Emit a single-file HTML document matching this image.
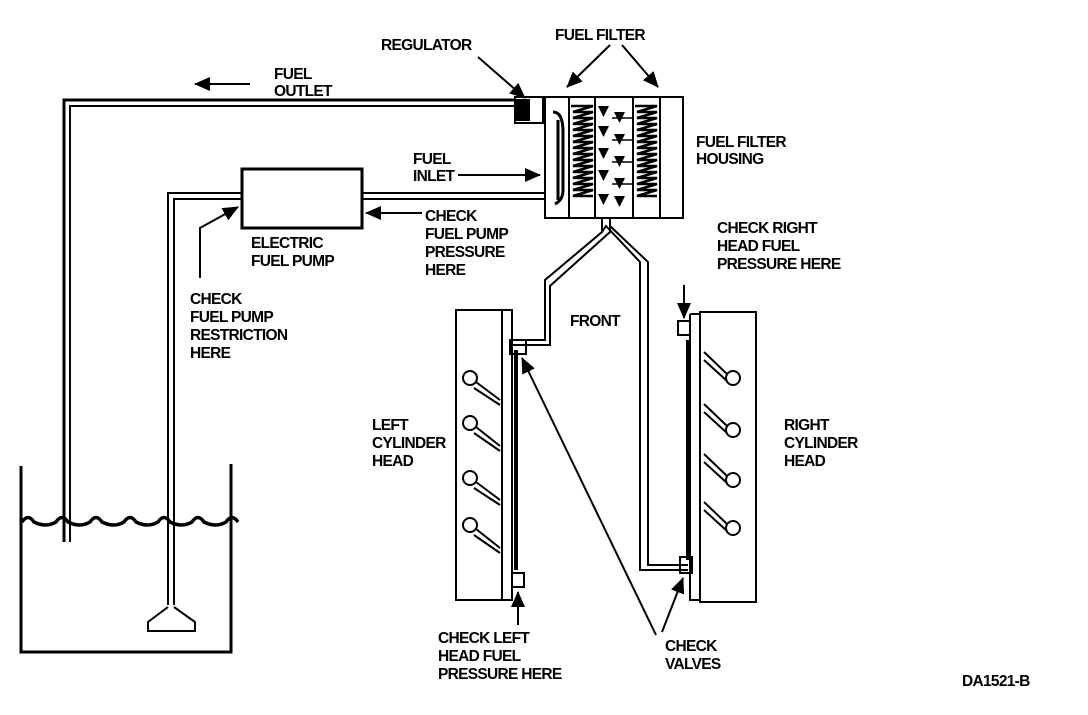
<!DOCTYPE html>
<html><head><style>
html,body{margin:0;padding:0;background:#fff;}
svg text{font-family:"Liberation Sans",sans-serif;font-weight:bold;font-size:15.5px;fill:#000;letter-spacing:-0.7px;}
</style></head><body>
<svg width="1088" height="710" viewBox="0 0 1088 710" xmlns="http://www.w3.org/2000/svg">
<defs>
<marker id="ahb" markerWidth="16" markerHeight="14" refX="15" refY="7" orient="auto" markerUnits="userSpaceOnUse"><path d="M0,0 L16,7 L0,14 Z" fill="#000"/></marker>
</defs>
<g stroke="#000" fill="none" stroke-width="2">
<path d="M21,466 V652 H231 V464" stroke-width="3"/>
<path d="M22,522 q6,-9 12,0 q12,6 22,0 q6,-9 12,0 q12,6 22,0 q6,-9 12,0 q12,6 22,0 q6,-9 12,0 q12,6 22,0 q6,-9 12,0 q12,6 22,0 q6,-9 12,0 q12,6 22,0 q6,-9 12,0" stroke-width="3.5"/>
<path d="M64,542 V100 H515" stroke-width="3"/>
<path d="M70,542 V106 H515" stroke-width="2"/>
<path d="M168,605 V193 H242" stroke-width="2"/>
<path d="M174,605 V199 H242" stroke-width="2"/>
<path d="M168,607 L148,622 V631 H195 V622 L174,607" stroke-width="2"/>
<rect x="242" y="169" width="120" height="59" stroke-width="3"/>
<path d="M362,193 H545 M362,199 H545"/>
<rect x="515" y="97" width="28" height="26" stroke-width="2"/>
<rect x="517" y="100" width="12" height="20" fill="#000"/>
<rect x="545" y="97" width="138" height="121" stroke-width="2"/>
<path d="M569,97 V218 M595,97 V218 M633,97 V218 M660,97 V218"/>
<path d="M553,112 q10,0 10,20 V190 q0,10 -8,14 M558,120 V200" stroke-width="3"/>
<path d="M571,106 h22 l-20,6 h20 l-20,6 h20 l-20,6 h20 l-20,6 h20 l-20,6 h20 l-20,6 h20 l-20,6 h20 l-20,6 h20 l-20,6 h20 l-20,6 h20 l-20,6 h20 l-20,6 h20 l-20,6 h20 l-20,6 h20 l-20,6 h20" stroke-width="2.5"/>
<path d="M635,106 h22 l-20,6 h20 l-20,6 h20 l-20,6 h20 l-20,6 h20 l-20,6 h20 l-20,6 h20 l-20,6 h20 l-20,6 h20 l-20,6 h20 l-20,6 h20 l-20,6 h20 l-20,6 h20 l-20,6 h20 l-20,6 h20 l-20,6 h20" stroke-width="2.5"/>
<path d="M612,118 H632 M612,140 H632 M612,162 H632 M612,184 H632" stroke-width="1.5"/>
</g>
<g fill="#000">
<path d="M598,106 l11,0 l-5.5,11z M614,112 l11,0 l-5.5,11z M598,126 l11,0 l-5.5,11z M614,134 l11,0 l-5.5,11z M598,148 l11,0 l-5.5,11z M614,156 l11,0 l-5.5,11z M598,170 l11,0 l-5.5,11z M614,178 l11,0 l-5.5,11z M598,194 l11,0 l-5.5,11z M614,196 l11,0 l-5.5,11z"/>
</g>
<g stroke="#000" fill="none" stroke-width="2">
<path d="M602,218 V232 L545,280 V340 H512"/>
<path d="M610,218 V232 L550,286 V345 H512"/>
<path d="M602,232 L606,226 L640,262 V570 H688"/>
<path d="M610,226 L648,262 V565 H688"/>
<rect x="456" y="310" width="56" height="290"/>
<path d="M502,310 V600 M512,340 V600 H505"/>
<path d="M516,350 V570" stroke-width="4"/>
<rect x="510" y="340" width="16" height="14"/>
<rect x="512" y="573" width="12" height="14"/>
<rect x="700" y="312" width="56" height="290"/>
<path d="M690,314 V600 H700 M700,314 H690"/>
<path d="M688,340 V560" stroke-width="4"/>
<rect x="678" y="321" width="12" height="14"/>
<rect x="680" y="557" width="12" height="16"/>
<circle cx="470" cy="378" r="7"/><path d="M476,382 L500,400 M474,388 L500,405"/>
<circle cx="470" cy="423" r="7"/><path d="M476,427 L500,446 M474,433 L500,451"/>
<circle cx="470" cy="478" r="7"/><path d="M476,482 L500,500 M474,488 L500,505"/>
<circle cx="470" cy="525" r="7"/><path d="M476,529 L500,548 M474,535 L500,553"/>
<circle cx="733" cy="378" r="7"/><path d="M727,374 L704,352 M727,381 L704,360"/>
<circle cx="733" cy="430" r="7"/><path d="M727,426 L704,404 M727,433 L704,412"/>
<circle cx="733" cy="480" r="7"/><path d="M727,476 L704,454 M727,483 L704,462"/>
<circle cx="733" cy="528" r="7"/><path d="M727,524 L704,502 M727,531 L704,510"/>
<path d="M250,84 H195" marker-end="url(#ahb)"/>
<path d="M478,57 L525,98" marker-end="url(#ahb)"/>
<path d="M610,45 L567,87" marker-end="url(#ahb)"/>
<path d="M622,45 L658,87" marker-end="url(#ahb)"/>
<path d="M458,175 H540" marker-end="url(#ahb)"/>
<path d="M422,213 H366" marker-end="url(#ahb)"/>
<path d="M200,278 V228 L238,207" marker-end="url(#ahb)"/>
<path d="M684,285 V318" marker-end="url(#ahb)"/>
<path d="M656,635 L522,358" marker-end="url(#ahb)"/>
<path d="M662,632 L683,578" marker-end="url(#ahb)"/>
<path d="M518,625 V592" marker-end="url(#ahb)"/>
</g>
<text x="381" y="50">REGULATOR</text>
<text x="555" y="40">FUEL FILTER</text>
<text x="274" y="79">FUEL</text>
<text x="274" y="96">OUTLET</text>
<text x="696" y="147">FUEL FILTER</text>
<text x="696" y="164">HOUSING</text>
<text x="413" y="164">FUEL</text>
<text x="413" y="181">INLET</text>
<text x="425" y="221">CHECK</text>
<text x="425" y="239">FUEL PUMP</text>
<text x="425" y="257">PRESSURE</text>
<text x="425" y="275">HERE</text>
<text x="251" y="248">ELECTRIC</text>
<text x="251" y="266">FUEL PUMP</text>
<text x="190" y="304">CHECK</text>
<text x="190" y="322">FUEL PUMP</text>
<text x="190" y="340">RESTRICTION</text>
<text x="190" y="358">HERE</text>
<text x="717" y="233">CHECK RIGHT</text>
<text x="717" y="251">HEAD FUEL</text>
<text x="717" y="269">PRESSURE HERE</text>
<text x="570" y="326">FRONT</text>
<text x="372" y="430">LEFT</text>
<text x="372" y="448">CYLINDER</text>
<text x="372" y="466">HEAD</text>
<text x="784" y="430">RIGHT</text>
<text x="784" y="448">CYLINDER</text>
<text x="784" y="466">HEAD</text>
<text x="438" y="643">CHECK LEFT</text>
<text x="438" y="661">HEAD FUEL</text>
<text x="438" y="679">PRESSURE HERE</text>
<text x="665" y="651">CHECK</text>
<text x="665" y="669">VALVES</text>
<text x="962" y="686">DA1521-B</text>
</svg>
</body></html>
